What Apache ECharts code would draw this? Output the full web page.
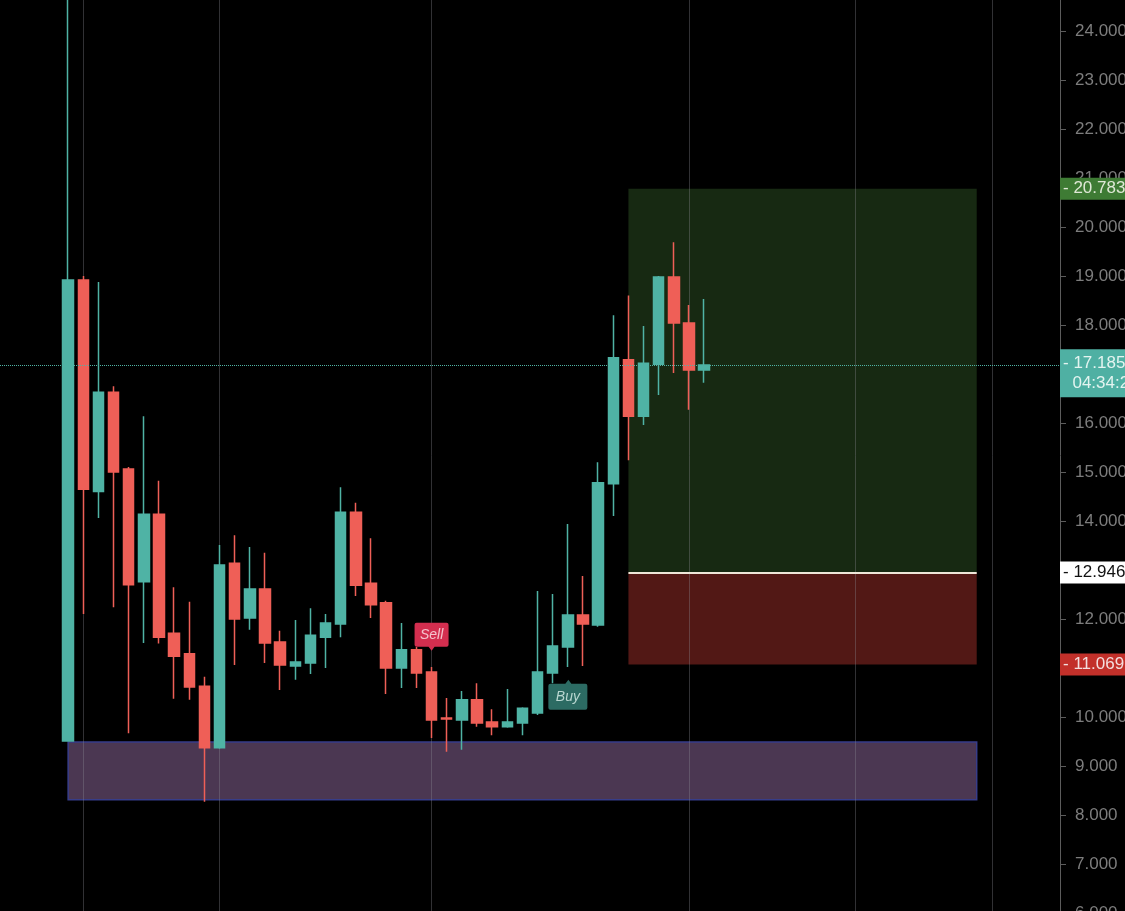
<!DOCTYPE html>
<html>
<head>
<meta charset="utf-8">
<title>Candles</title>
<script src="https://cdn.jsdelivr.net/npm/echarts@6/dist/echarts.min.js"></script>
<style>
  html, body { margin: 0; padding: 0; background: #000; }
  #chart { width: 1125px; height: 911px; }
</style>
</head>
<body>
<div id="chart"></div>
<script>
// candles, left to right
var opens  = [9.51, 18.92, 14.60, 16.63, 15.06, 12.76, 14.14, 11.71, 11.29, 10.63,
              9.37, 13.14, 12.02, 12.61, 11.53, 11.04, 11.10, 11.63, 11.90, 14.18,
              12.73, 12.33, 11.00, 11.37, 10.92, 9.98, 9.94, 10.35, 9.90, 9.80,
              9.88, 10.08, 10.90, 11.43, 12.08, 11.88, 14.76, 17.29, 16.14, 17.20,
              18.98, 18.04, 17.08];
var closes = [18.92, 14.65, 16.63, 15.00, 12.70, 14.14, 11.63, 11.24, 10.61, 9.37,
              13.10, 12.00, 12.61, 11.51, 11.06, 11.12, 11.67, 11.92, 14.18, 12.69,
              12.29, 11.00, 11.37, 10.90, 9.94, 9.96, 10.35, 9.88, 9.80, 9.90,
              10.18, 10.92, 11.45, 12.08, 11.90, 14.78, 17.33, 16.14, 17.22, 18.98,
              18.04, 17.08, 17.185];
var lows   = [9.50, 12.10, 14.06, 12.24, 9.67, 11.51, 11.50, 10.37, 10.35, 8.27,
              9.35, 11.06, 11.78, 11.10, 10.55, 10.76, 10.88, 11.00, 11.63, 12.47,
              12.02, 10.47, 10.59, 10.59, 9.57, 9.29, 9.33, 9.80, 9.63, 9.78,
              9.63, 10.04, 10.69, 11.02, 11.04, 11.84, 14.10, 15.24, 15.96, 16.57,
              17.02, 16.27, 16.82];
var highs  = [25.00, 19.00, 18.88, 16.75, 15.10, 16.14, 14.82, 12.65, 12.35, 10.82,
              13.51, 13.71, 13.47, 13.35, 11.76, 11.98, 12.22, 12.10, 14.69, 14.37,
              13.65, 12.37, 11.92, 11.43, 11.02, 10.39, 10.53, 10.69, 10.16, 10.57,
              10.20, 12.57, 12.51, 13.94, 12.88, 15.20, 18.20, 18.60, 17.98, 19.00,
              19.69, 18.41, 18.53];

// empty slots before/after the candles
var padBefore = 4;
var padAfter = 23;

// position tool levels
var takeProfit = 20.783;
var entryPrice = 12.946;
var stopLoss = 11.069;
var lastPrice = 17.185;
var countdown = '04:34:29';

// support zone
var zoneTop = 9.49;
var zoneBottom = 8.31;

// signals: [slot, price]
var sellSignal = [28, 11.35];
var buySignal = [37, 10.76];

// vertical session lines (slot index)
var sessionLines = [5, 14, 28, 45, 56, 65];

var total = padBefore + opens.length + padAfter;
var categories = [];
for (var i = 0; i < total; i++) categories.push(String(i));

var candleData = [];
for (var j = 0; j < opens.length; j++) {
  candleData.push([padBefore + j, opens[j], closes[j], lows[j], highs[j]]);
}

var fontFam = '"Liberation Sans", Arial, sans-serif';
var toolStart = 41, toolEnd = 64, zoneStart = 4, zoneEnd = 64;
var hidden = { color: 'rgba(0,0,0,0)', width: 0 };

var chart = echarts.init(document.getElementById('chart'));
var option = {
  backgroundColor: '#000',
  animation: false,
  textStyle: { fontFamily: fontFam },
  grid: { left: 0, right: 65, top: -18, bottom: -2, outerBoundsMode: 'none', containLabel: false },
  xAxis: {
    type: 'category',
    data: categories,
    boundaryGap: true,
    axisLine: { show: false },
    axisTick: { show: false },
    axisLabel: { show: false },
    splitLine: { show: false }
  },
  yAxis: {
    type: 'value',
    position: 'right',
    min: 6,
    max: 25,
    interval: 1,
    axisLine: { show: true, lineStyle: { color: '#5c5c5c', width: 1 } },
    axisTick: { show: true, length: 6, lineStyle: { color: '#5c5c5c' } },
    axisLabel: {
      color: '#7d7d7d', fontSize: 17, margin: 15, fontFamily: fontFam,
      formatter: function (v) { return v.toFixed(3); }
    },
    splitLine: { show: false }
  },
  series: [
    {
      // background: session lines, zones, boxes
      type: 'line',
      data: [],
      silent: true,
      markArea: {
        silent: true,
        z: 1,
        data: [
          [{ coord: [toolStart, takeProfit], itemStyle: { color: '#172912' } },
           { coord: [toolEnd, entryPrice] }],
          [{ coord: [toolStart, entryPrice], itemStyle: { color: '#521815' } },
           { coord: [toolEnd, stopLoss] }],
          [{ coord: [zoneStart, zoneTop],
             itemStyle: { color: '#4b3752', borderColor: '#373d8a', borderWidth: 1.5 } },
           { coord: [zoneEnd, zoneBottom] }]
        ]
      },
      markLine: {
        silent: true,
        z: 1.5,
        symbol: ['none', 'none'],
        label: { show: false },
        lineStyle: { color: 'rgba(140,140,150,0.35)', width: 1, type: 'solid' },
        data: sessionLines.map(function (s) { return { xAxis: s }; })
      }
    },
    {
      type: 'candlestick',
      barWidth: 11,
      encode: { x: 0, y: [1, 2, 3, 4] },
      data: candleData,
      itemStyle: {
        color: '#4fb3a5',
        color0: '#ef5f57',
        borderColor: '#4fb3a5',
        borderColor0: '#ef5f57',
        borderWidth: 1.5
      },
      markLine: {
        silent: true,
        symbol: ['none', 'none'],
        label: {
          position: 'end', distance: 0, fontSize: 17, fontFamily: fontFam,
          lineHeight: 20, padding: [2, 6, 0, 3], align: 'left'
        },
        data: [
          {
            yAxis: takeProfit,
            lineStyle: hidden,
            label: { formatter: '- ' + takeProfit.toFixed(3), color: '#dfe8d6', backgroundColor: '#3e7b34' }
          },
          {
            yAxis: lastPrice,
            lineStyle: { color: '#4fb3a5', type: 'dotted', width: 1 },
            label: {
              formatter: '- ' + lastPrice.toFixed(3) + '\n  ' + countdown,
              color: '#e3f4f0', backgroundColor: '#4fb0a3', padding: [4, 6, 4, 3], offset: [0, 8]
            }
          },
          [
            { coord: [toolStart, entryPrice], lineStyle: { color: '#efe6d8', width: 2, type: 'solid' }, label: { show: false } },
            { coord: [toolEnd, entryPrice] }
          ],
          {
            yAxis: entryPrice,
            lineStyle: hidden,
            label: { formatter: '- ' + entryPrice.toFixed(3), color: '#111', backgroundColor: '#ffffff' }
          },
          {
            yAxis: stopLoss,
            lineStyle: hidden,
            label: { formatter: '- ' + stopLoss.toFixed(3), color: '#f3dede', backgroundColor: '#c2302a' }
          }
        ]
      },
      markPoint: {
        silent: true,
        data: [
          {
            coord: sellSignal,
            symbol: 'path://M2,0 H32 Q34,0 34,2 V22 Q34,24 32,24 H20 L17,28 L14,24 H2 Q0,24 0,22 V2 Q0,0 2,0 Z',
            symbolSize: [34, 28],
            symbolOffset: [0, -14],
            itemStyle: { color: '#d32e4f' },
            label: {
              show: true, position: 'inside', offset: [0, -2], formatter: 'Sell',
              color: '#f4c2cc', fontSize: 14, fontStyle: 'italic', fontFamily: fontFam
            }
          },
          {
            coord: buySignal,
            symbol: 'path://M2,4 H17 L20,0 L23,4 H37 Q39,4 39,6 V28 Q39,30 37,30 H2 Q0,30 0,28 V6 Q0,4 2,4 Z',
            symbolSize: [39, 30],
            symbolOffset: [0, 15],
            itemStyle: { color: '#2c6b63' },
            label: {
              show: true, position: 'inside', offset: [0, 2], formatter: 'Buy',
              color: '#b8d6d0', fontSize: 14, fontStyle: 'italic', fontFamily: fontFam
            }
          }
        ]
      }
    }
  ]
};
chart.setOption(option);
</script>
</body>
</html>
